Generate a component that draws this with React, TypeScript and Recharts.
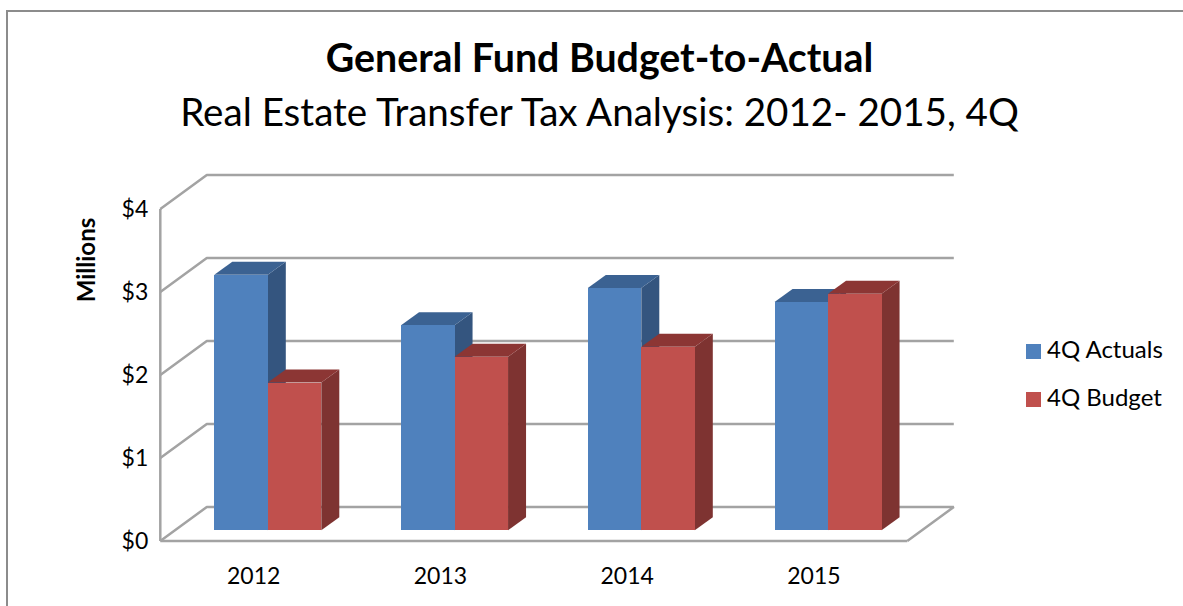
import React from "react";
import {
  BarChart,
  Bar,
  XAxis,
  YAxis,
  CartesianGrid,
  Legend
} from "recharts";

const years = ["2012", "2013", "2014", "2015"];
const actuals = [3.08, 2.47, 2.92, 2.75];
const budget = [1.78, 2.09, 2.21, 2.85];
const yTicks = [0, 1, 2, 3, 4];

const data = years.map((year, i) => ({
  year,
  actual: actuals[i],
  budget: budget[i]
}));

const FONT = "Lato, Carlito, Calibri, sans-serif";
const AXIS_COLOR = "#a3a3a3";
const BLUE = { front: "#4f81bd", side: "#34557f", top: "#3b6292" };
const RED = { front: "#c0504d", side: "#7e3331", top: "#8c3634" };

// how far the floor runs back, in pixels
const WALL_DX = 46.5;
const WALL_DY = 34;
// how deep a column is, and where it stands on the floor
const DEPTH_DX = 18;
const DEPTH_DY = 13;
const BAR_DX = 14;
const BAR_DY = -10.7;

const makeBox = (colors: { front: string; side: string; top: string }) => (props: any) => {
  const x = props.x + BAR_DX;
  const y = props.y + BAR_DY;
  const { width, height } = props;
  const right = x + width;
  const bottom = y + height;
  return (
    <g>
      <path
        d={`M${right},${y}L${right + DEPTH_DX},${y - DEPTH_DY}L${right + DEPTH_DX},${bottom - DEPTH_DY}L${right},${bottom}Z`}
        fill={colors.side}
      />
      <path
        d={`M${x},${y}L${x + DEPTH_DX},${y - DEPTH_DY}L${right + DEPTH_DX},${y - DEPTH_DY}L${right},${y}Z`}
        fill={colors.top}
      />
      <rect x={x} y={y} width={width} height={height} fill={colors.front} shapeRendering="crispEdges" />
    </g>
  );
};

const WallLine = (props: any) => {
  const { x1, y1, x2, index } = props;
  const isFloor = y1 >= props.y + props.height - 0.5;
  let d = `M${x1},${y1}L${x1 + WALL_DX},${y1 - WALL_DY}L${x2 + WALL_DX},${y1 - WALL_DY}`;
  if (isFloor) d += `L${x2},${y1}`;
  return <path key={index} d={d} fill="none" stroke={AXIS_COLOR} strokeWidth={2.5} strokeLinejoin="bevel" />;
};

const App = () => {
  return (
    <div style={{ position: "absolute", left: 0, top: 0, width: 1183, height: 606, background: "#fff", overflow: "hidden" }}>
      <div
        style={{
          position: "absolute",
          left: 6,
          top: 10,
          right: 0,
          bottom: 0,
          borderLeft: "2px solid #8c8c8c",
          borderTop: "2px solid #8c8c8c"
        }}
      />
      <BarChart
        width={1183}
        height={606}
        data={data}
        barSize={53.5}
        barGap={0}
        margin={{ top: 209, right: 275.7, bottom: 0, left: 0 }}
        style={{ position: "absolute", left: 0, top: 0, fontFamily: FONT }}
      >
        <text x={599.5} y={72} textAnchor="middle" fontSize={39.3} fontWeight={700} fill="#000">
          General Fund Budget-to-Actual
        </text>
        <text x={599.5} y={126} textAnchor="middle" fontSize={38.6} fill="#000">
          Real Estate Transfer Tax Analysis: 2012- 2015, 4Q
        </text>
        <CartesianGrid horizontal={WallLine} vertical={false} />
        <XAxis
          dataKey="year"
          height={65}
          tickLine={false}
          tickMargin={21}
          axisLine={{ stroke: AXIS_COLOR, strokeWidth: 2.5 }}
          tick={{ fill: "#000", fontSize: 23 }}
        />
        <YAxis
          width={160.3}
          domain={[0, 4]}
          ticks={yTicks}
          tickLine={false}
          tickMargin={6}
          tickFormatter={(v) => `$${v}`}
          axisLine={{ stroke: AXIS_COLOR, strokeWidth: 2.5 }}
          tick={{ fill: "#000", fontSize: 23 }}
          label={{
            value: "Millions",
            angle: -90,
            position: "center",
            dx: 6,
            dy: -115,
            fontSize: 24,
            fontWeight: 700,
            fill: "#000"
          }}
        />
        <Bar dataKey="actual" name="4Q Actuals" fill={BLUE.front} shape={makeBox(BLUE)} isAnimationActive={false} />
        <Bar dataKey="budget" name="4Q Budget" fill={RED.front} shape={makeBox(RED)} isAnimationActive={false} />
        <Legend
          layout="vertical"
          align="center"
          verticalAlign="middle"
          iconType="square"
          iconSize={15}
          width={160}
          wrapperStyle={{ left: 1026, top: 325, fontSize: 24, lineHeight: "48px" }}
          formatter={(value) => <span style={{ color: "#000", marginLeft: 2 }}>{value}</span>}
        />
      </BarChart>
    </div>
  );
};

export default App;
